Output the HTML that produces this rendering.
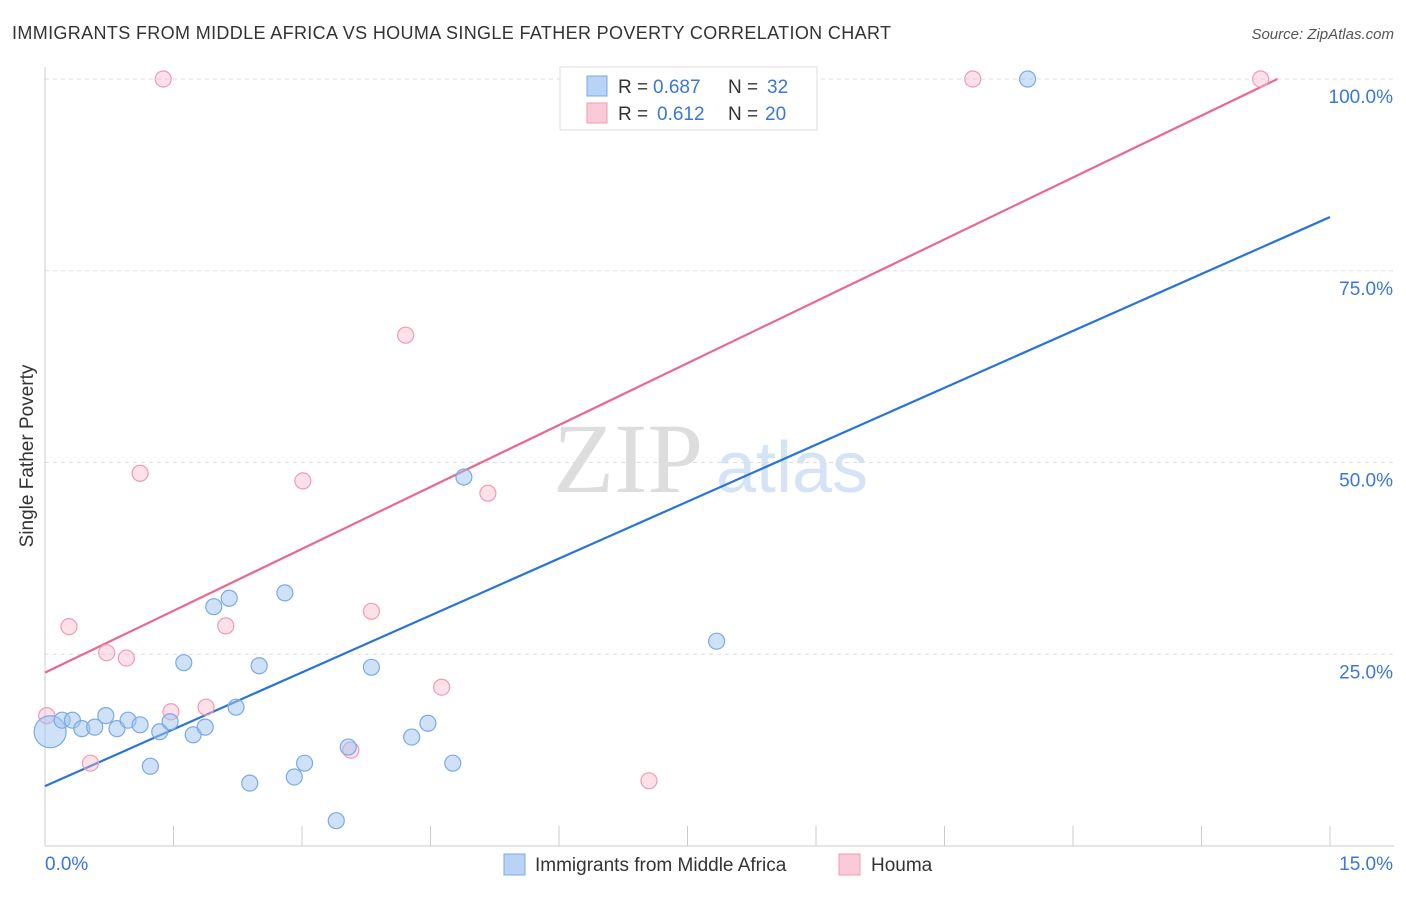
<!DOCTYPE html>
<html><head><meta charset="utf-8">
<style>
body{margin:0;background:#fff;font-family:"Liberation Sans",sans-serif;}
svg text{font-family:"Liberation Sans",sans-serif;}
</style></head>
<body>
<svg id="chart" width="1406" height="892" xmlns="http://www.w3.org/2000/svg">
<text x="12" y="39" font-size="18" fill="#333" textLength="879">IMMIGRANTS FROM MIDDLE AFRICA VS HOUMA SINGLE FATHER POVERTY CORRELATION CHART</text>
<text x="1394" y="39" font-size="15" fill="#555" font-style="italic" text-anchor="end">Source: ZipAtlas.com</text>
<text x="33" y="456" font-size="19" fill="#333" text-anchor="middle" transform="rotate(-90 33 456)">Single Father Poverty</text>
<g>
<text x="553" y="492" font-size="100" fill="#ddd" style="font-family:'Liberation Serif',serif">ZIP</text>
<text x="716" y="492" font-size="72" fill="#d4e3f5">atlas</text>
</g>
<g id="grid"></g><g id="axes"></g><g id="lines"></g><g id="points"></g>
<g>
<rect x="560" y="67" width="257" height="63" fill="#fff" stroke="#ddd"/>
<rect x="587" y="76" width="20" height="20" fill="#b8d3f5" stroke="#7aaae6"/>
<text y="93" font-size="19" fill="#333"><tspan x="618">R =</tspan><tspan x="653" fill="#3a77d6">0.687</tspan><tspan x="728">N =</tspan><tspan x="767" fill="#3a77d6">32</tspan></text>
<rect x="587" y="103" width="20" height="20" fill="#fbcad8" stroke="#f29ab5"/>
<text y="120" font-size="19" fill="#333"><tspan x="618">R =</tspan><tspan x="657" fill="#3a77d6">0.612</tspan><tspan x="728">N =</tspan><tspan x="765" fill="#3a77d6">20</tspan></text>
</g>
<g>
<rect x="504" y="854" width="21" height="21" fill="#b8d3f5" stroke="#7aaae6"/>
<text x="535" y="871" font-size="19" fill="#333">Immigrants from Middle Africa</text>
<rect x="839" y="854" width="21" height="21" fill="#fbcad8" stroke="#f29ab5"/>
<text x="871" y="871" font-size="19" fill="#333">Houma</text>
</g>
</svg>
<script>
const xTicks=[0,1.5,3,4.5,6,7.5,9,10.5,12,13.5,15];
const yTicks=[25,50,75,100];
const yTickLabels=["25.0%","50.0%","75.0%","100.0%"];
const blueX=[0.06,0.20,0.32,0.43,0.58,0.71,0.84,0.97,1.11,1.23,1.34,1.46,1.62,1.73,1.87,1.97,2.15,2.23,2.39,2.50,2.80,2.91,3.03,3.40,3.54,3.81,4.28,4.47,4.76,4.89,7.84,11.47];
const blueY=[14.9,16.4,16.4,15.3,15.5,17.0,15.3,16.4,15.8,10.4,14.9,16.2,23.9,14.5,15.5,31.2,32.3,18.1,8.2,23.5,33.0,9.0,10.8,3.3,12.9,23.3,14.2,16.0,10.8,48.1,26.7,100];
const pinkX=[0.02,0.28,0.53,0.72,0.95,1.11,1.38,1.47,1.88,2.11,3.01,3.57,3.81,4.21,4.63,5.17,7.05,7.33,10.83,14.19];
const pinkY=[17.0,28.6,10.8,25.2,24.5,48.6,100,17.5,18.1,28.7,47.6,12.5,30.6,66.6,20.7,46.0,8.5,100,100,100];
const blueLine=[7.8,82.0];
const pinkLine=[22.6,5.38];
const X=v=>45+v*(1285/15), Y=v=>846-v*(767/100);
const NS="http://www.w3.org/2000/svg";
function mk(p,t,a){const e=document.createElementNS(NS,t);for(const k in a)e.setAttribute(k,a[k]);document.getElementById(p).appendChild(e);return e;}
yTicks.forEach((t,i)=>{
 const g=mk('grid','line',{x1:45,x2:1394,y1:Y(t),y2:Y(t),stroke:'#ddd','stroke-dasharray':'4,4'});
 
 
 const l=mk('axes','text',{x:1393,y:Y(t)+24,'font-size':19,fill:'#3a77d6','text-anchor':'end'});l.textContent=yTickLabels[i];
 
 
});
const ax=mk('axes','line',{x1:45,x2:1394,y1:846,y2:846,stroke:'#ccc'});


const ay=mk('axes','line',{x1:45,x2:45,y1:67,y2:846,stroke:'#ccc'});


xTicks.forEach(t=>{const tk=mk('axes','line',{x1:X(t),x2:X(t),y1:826,y2:846,stroke:'#ccc'});
 
 });
const l0=mk('axes','text',{x:45,y:870,'font-size':19,fill:'#3a77d6'});l0.textContent='0.0%';


const l1=mk('axes','text',{x:1393,y:870,'font-size':19,fill:'#3a77d6','text-anchor':'end'});l1.textContent='15.0%';


const bl=mk('lines','line',{x1:X(0),y1:Y(blueLine[0]),x2:X(15),y2:Y(blueLine[1]),stroke:'#2a74d8','stroke-width':2.2});


const pe=(100-pinkLine[0])/pinkLine[1];
const pl=mk('lines','line',{x1:X(0),y1:Y(pinkLine[0]),x2:X(pe),y2:Y(100),stroke:'#e8688f','stroke-width':2.2});


pinkX.forEach((x,i)=>{const c=mk('points','circle',{cx:X(x),cy:Y(pinkY[i]),r:8,fill:'rgba(248,180,200,0.4)',stroke:'#f29ab5','stroke-width':1.2});
 
 });
blueX.forEach((x,i)=>{const c=mk('points','circle',{cx:X(x),cy:Y(blueY[i]),r:i===0?16:8,fill:'rgba(160,196,240,0.5)',stroke:'#7aaae6','stroke-width':1.2});
 
 });
</script>
</body></html>
